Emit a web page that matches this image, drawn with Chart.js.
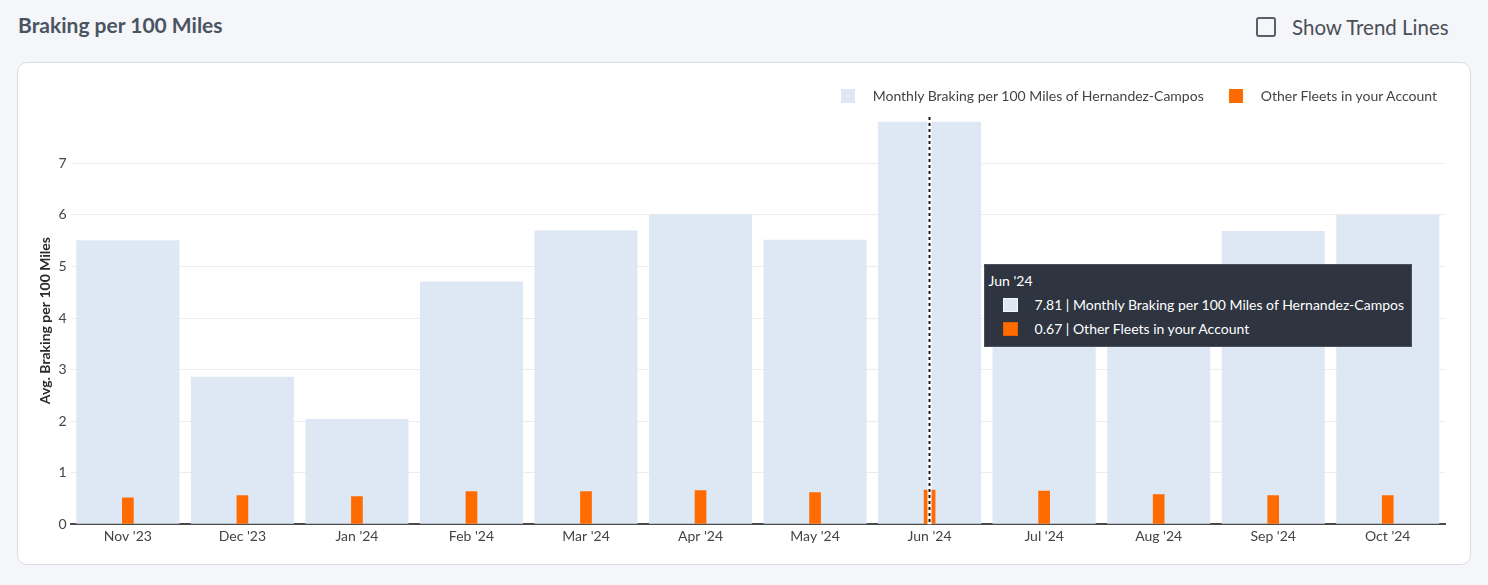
<!DOCTYPE html>
<html>
<head>
<meta charset="utf-8">
<script src="https://cdn.jsdelivr.net/npm/chart.js"></script>
<style>
  body { margin: 0; width: 1488px; height: 585px; overflow: hidden; background: #f5f6f9; font-family: Lato, sans-serif; }
  #title { position: absolute; left: 18px; top: 12px; font-size: 21px; font-weight: bold; color: #4a5461; }
  #trend-box { position: absolute; left: 1256px; top: 17px; width: 16px; height: 16px; border: 2px solid #5b6068; border-radius: 3px; }
  #trend-label { position: absolute; left: 1292px; top: 15px; font-size: 20.5px; color: #4a4f57; }
  #card { position: absolute; left: 17px; top: 62px; width: 1452px; height: 501px; background: #fff; border: 1px solid #d9dce2; border-radius: 10px; }
  #chart-wrap { position: absolute; left: 0; top: 0; width: 1452px; height: 501px; }
  #legend { position: absolute; top: 24px; right: 33px; display: flex; font-size: 14px; color: #444; }
  .leg-item { display: flex; align-items: center; margin-left: 25px; }
  .leg-box { width: 14px; height: 14px; margin-right: 18px; }
  #tooltip { position: absolute; display: none; background: #2e3440; border: 1px solid #4a505c; color: #fff; font-size: 14px; padding: 4px 7px 5px 4px; white-space: nowrap; }
  #tooltip .tt-line { height: 24px; line-height: 24px; }
  #tooltip .tt-row { position: relative; padding-left: 46px; }
  #tooltip .tt-box { position: absolute; left: 14px; top: 5px; width: 13px; height: 12px; border: 1px solid; }
</style>
</head>
<body>
<div id="title">Braking per 100 Miles</div>
<div id="trend-box"></div>
<div id="trend-label">Show Trend Lines</div>
<div id="card">
  <div id="chart-wrap"><canvas id="brakingChart"></canvas></div>
  <div id="legend"></div>
  <div id="tooltip"></div>
</div>
<script>
const months = ["Nov '23", "Dec '23", "Jan '24", "Feb '24", "Mar '24", "Apr '24", "May '24", "Jun '24", "Jul '24", "Aug '24", "Sep '24", "Oct '24"];
const fleetValues = [5.51, 2.86, 2.04, 4.71, 5.70, 6.01, 5.52, 7.81, 4.60, 4.30, 5.69, 6.00];
const otherFleetValues = [0.52, 0.56, 0.54, 0.64, 0.64, 0.66, 0.62, 0.67, 0.65, 0.58, 0.56, 0.56];
const yTicks = [0, 1, 2, 3, 4, 5, 6, 7];
const fleetLabel = 'Monthly Braking per 100 Miles of Hernandez-Campos';
const otherLabel = 'Other Fleets in your Account';
const activeIndex = 7;

const blue = '#dee8f5';
const orange = '#ff6b00';
const fontFamily = 'Lato, sans-serif';

document.addEventListener('DOMContentLoaded', function() {
  // legend in html so the spacing matches
  const legend = document.getElementById('legend');
  [[fleetLabel, blue], [otherLabel, orange]].forEach(([label, color]) => {
    const item = document.createElement('div');
    item.className = 'leg-item';
    item.innerHTML = '<div class="leg-box" style="background:' + color + '"></div><span>' + label + '</span>';
    legend.appendChild(item);
  });

  const hoverLine = {
    id: 'hoverLine',
    afterDatasetsDraw(chart) {
      const bar = chart.getDatasetMeta(0).data[activeIndex];
      if (!bar) return;
      const x = Math.round(bar.x) - 0.5;
      const { top, bottom } = chart.chartArea;
      const ctx = chart.ctx;
      ctx.save();
      ctx.strokeStyle = '#fff';
      ctx.lineWidth = 4;
      ctx.beginPath();
      ctx.moveTo(x, top);
      ctx.lineTo(x, bottom);
      ctx.stroke();
      ctx.strokeStyle = '#1a1a1a';
      ctx.lineWidth = 2;
      ctx.setLineDash([3, 3]);
      ctx.beginPath();
      ctx.moveTo(x, top);
      ctx.lineTo(x, bottom);
      ctx.stroke();
      ctx.restore();

      // tooltip box next to the line
      const tip = document.getElementById('tooltip');
      const rows = [
        [fleetValues[activeIndex].toFixed(2) + ' | ' + fleetLabel, blue, '#f4f7fb'],
        [otherFleetValues[activeIndex].toFixed(2) + ' | ' + otherLabel, orange, '#e55f00']
      ];
      let html = '<div class="tt-line">' + months[activeIndex] + '</div>';
      rows.forEach(([text, color, edge]) => {
        html += '<div class="tt-line tt-row"><span class="tt-box" style="background:' + color + ';border-color:' + edge + '"></span>' + text + '</div>';
      });
      tip.innerHTML = html;
      tip.style.left = (bar.x + 54) + 'px';
      tip.style.top = (top + 147) + 'px';
      tip.style.display = 'block';
    }
  };

  const ctx = document.getElementById('brakingChart').getContext('2d');
  const brakingChart = new Chart(ctx, {
    type: 'bar',
    data: {
      labels: months,
      datasets: [{
        label: fleetLabel,
        data: fleetValues,
        backgroundColor: blue,
        hoverBackgroundColor: blue,
        barPercentage: 0.9,
        categoryPercentage: 1.0,
        grouped: false,
        order: 2
      }, {
        label: otherLabel,
        data: otherFleetValues,
        backgroundColor: orange,
        hoverBackgroundColor: orange,
        barPercentage: 0.102,
        categoryPercentage: 1.0,
        grouped: false,
        order: 1
      }]
    },
    options: {
      responsive: true,
      maintainAspectRatio: false,
      animation: false,
      layout: {
        padding: { top: 54, right: 25, left: 0, bottom: 0 }
      },
      scales: {
        x: {
          grid: { display: false, drawTicks: false },
          border: { color: '#4a4a4a', width: 2 },
          ticks: { color: '#444', font: { family: fontFamily, size: 14 }, padding: 4, maxRotation: 0 },
          afterFit: function(scale) { scale.height = 39.8; }
        },
        y: {
          min: 0,
          max: 7.9,
          afterBuildTicks: function(scale) { scale.ticks = yTicks.map(v => ({ value: v })); },
          afterFit: function(scale) { scale.width = 52.6; },
          grid: { color: '#ececec', drawTicks: false },
          border: { display: false },
          ticks: { color: '#444', font: { family: fontFamily, size: 14 }, padding: 4 },
          title: {
            display: true,
            text: 'Avg. Braking per 100 Miles',
            color: '#2a2a2a',
            font: { family: fontFamily, size: 14, weight: 'bold' },
            padding: { top: 19, bottom: 0 }
          }
        }
      },
      plugins: {
        legend: { display: false },
        tooltip: { enabled: false }
      }
    },
    plugins: [hoverLine]
  });
});
</script>
</body>
</html>
